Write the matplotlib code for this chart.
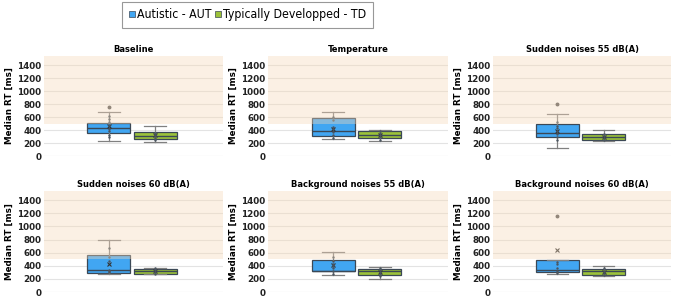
import matplotlib
matplotlib.use("Agg")
import matplotlib.pyplot as plt
from matplotlib.patches import Patch
from matplotlib import font_manager

plt.rcParams['font.family'] = ['DejaVu Sans']

conditions = ["Baseline", "Temperature", "Sudden noises 55 dB(A)",
              "Sudden noises 60 dB(A)", "Background noises 55 dB(A)",
              "Background noises 60 dB(A)"]
groups = ["Autistic - AUT", "Typically Developped - TD"]

# box statistics per condition (ms)
aut_q1 = [349, 302, 297, 294, 314, 299]
aut_med = [426, 380, 354, 340, 325, 340]
aut_q3 = [503, 585, 487, 567, 492, 486]
aut_lo = [231, 256, 125, 279, 264, 273]
aut_hi = [672, 682, 641, 795, 607, 492]
aut_mean = [455, 410, 392, 431, 415, 648]
aut_out = [[758], [], [795], [], [], [1164]]
aut_pts = [[290, 330, 380, 420, 470, 520, 570, 620],
           [270, 320, 370, 410, 440, 560, 600],
           [240, 290, 340, 390, 430, 460, 520],
           [300, 320, 340, 480, 540, 670],
           [280, 320, 360, 400, 430, 470, 540],
           [290, 320, 360, 420, 460]]

td_q1 = [262, 277, 251, 279, 264, 264]
td_med = [313, 318, 297, 318, 314, 314]
td_q3 = [364, 380, 333, 349, 349, 355]
td_lo = [215, 226, 235, 268, 203, 238]
td_hi = [457, 405, 395, 370, 385, 390]
td_mean = [318, 325, 300, 325, 305, 310]
td_out = [[], [], [], [], [], []]
td_pts = [[240, 280, 310, 340, 360],
          [250, 290, 320, 350, 380],
          [250, 280, 310, 340],
          [280, 310, 340, 360],
          [240, 280, 310, 340, 370],
          [260, 290, 320, 360]]

yticks = [0, 200, 400, 600, 800, 1000, 1200, 1400]

blue = '#41a6f2'
green = '#9cc23a'
edge = '#3b4856'

fig = plt.figure(figsize=(6.77, 3.06), dpi=100)
W, H = 677, 306
cols = [(44, 223), (268, 448), (493, 671)]
rows = [(156, 100), (292, 101)]


def stats(i, q1, med, q3, lo, hi, mean, out):
    return dict(q1=q1[i], med=med[i], q3=q3[i], whislo=lo[i], whishi=hi[i],
                mean=mean[i], fliers=out[i])


for i, name in enumerate(conditions):
    r, c = divmod(i, 3)
    x0, x1 = cols[c]
    yb, h = rows[r]
    ax = fig.add_axes([x0 / W, (H - yb) / H, (x1 - x0) / W, h / H])

    pos = [0.362, 0.621]
    st = [stats(i, aut_q1, aut_med, aut_q3, aut_lo, aut_hi, aut_mean, aut_out),
          stats(i, td_q1, td_med, td_q3, td_lo, td_hi, td_mean, td_out)]
    bp = ax.bxp(st, positions=pos, widths=0.24, showmeans=True,
                patch_artist=True, showfliers=True,
                boxprops=dict(edgecolor=edge, linewidth=0.9),
                medianprops=dict(color=edge, linewidth=1.0),
                whiskerprops=dict(color='#808080', linewidth=0.9),
                capprops=dict(color='#808080', linewidth=0.9),
                meanprops=dict(marker='x', markeredgecolor='#333333',
                               markersize=3.5, markeredgewidth=0.8),
                flierprops=dict(marker='o', markersize=1.8,
                                markerfacecolor='#555555',
                                markeredgecolor='#555555'))
    for patch, col in zip(bp['boxes'], [blue, green]):
        patch.set_facecolor(col)
        patch.set_zorder(2)
    for line in bp['medians'] + bp['whiskers'] + bp['caps'] + bp['means'] + bp['fliers']:
        line.set_zorder(2.5)
    for p, pts in zip(pos, [aut_pts[i], td_pts[i]]):
        ax.scatter([p] * len(pts), pts, s=3, color='#4a5560', zorder=2.6,
                   linewidths=0)

    ax.axhspan(500, 1540, color='#f7d9b8', alpha=0.38, zorder=3, lw=0)
    for y in yticks[1:]:
        ax.axhline(y, color='#e3e3e3', lw=0.8, zorder=0.5)
    ax.axhline(0, color='#d9d9d9', lw=0.8, zorder=0.5)

    ax.set_xlim(0, 1)
    ax.set_ylim(0, 1540)
    ax.set_yticks(yticks)
    ax.set_yticklabels([str(v) for v in yticks], fontsize=6.3,
                       fontweight='bold', color='#222222')
    ax.set_xticks([])
    ax.tick_params(axis='y', length=0, pad=2)
    for s in ax.spines.values():
        s.set_visible(False)
    ax.set_title(name, fontsize=6, fontweight='bold', pad=3)
    ax.set_ylabel("Median RT [ms]", fontsize=6.3, fontweight='bold',
                  labelpad=2)

handles = [Patch(facecolor=blue, edgecolor=edge, lw=0.5),
           Patch(facecolor=green, edgecolor=edge, lw=0.5)]
legend_font = font_manager.FontProperties(family='DejaVu Sans',
                                          stretch='condensed', size=8.8)
leg = fig.legend(handles, groups, loc='center', bbox_to_anchor=(0.366, 0.951),
                 ncol=2, frameon=True, fancybox=False, edgecolor='#7f7f7f',
                 handlelength=0.45, handleheight=0.45, handletextpad=0.2,
                 columnspacing=0.3, borderpad=0.55, borderaxespad=0,
                 prop=legend_font)
leg.get_frame().set_linewidth(0.8)

fig.savefig("out.png", dpi=100)
